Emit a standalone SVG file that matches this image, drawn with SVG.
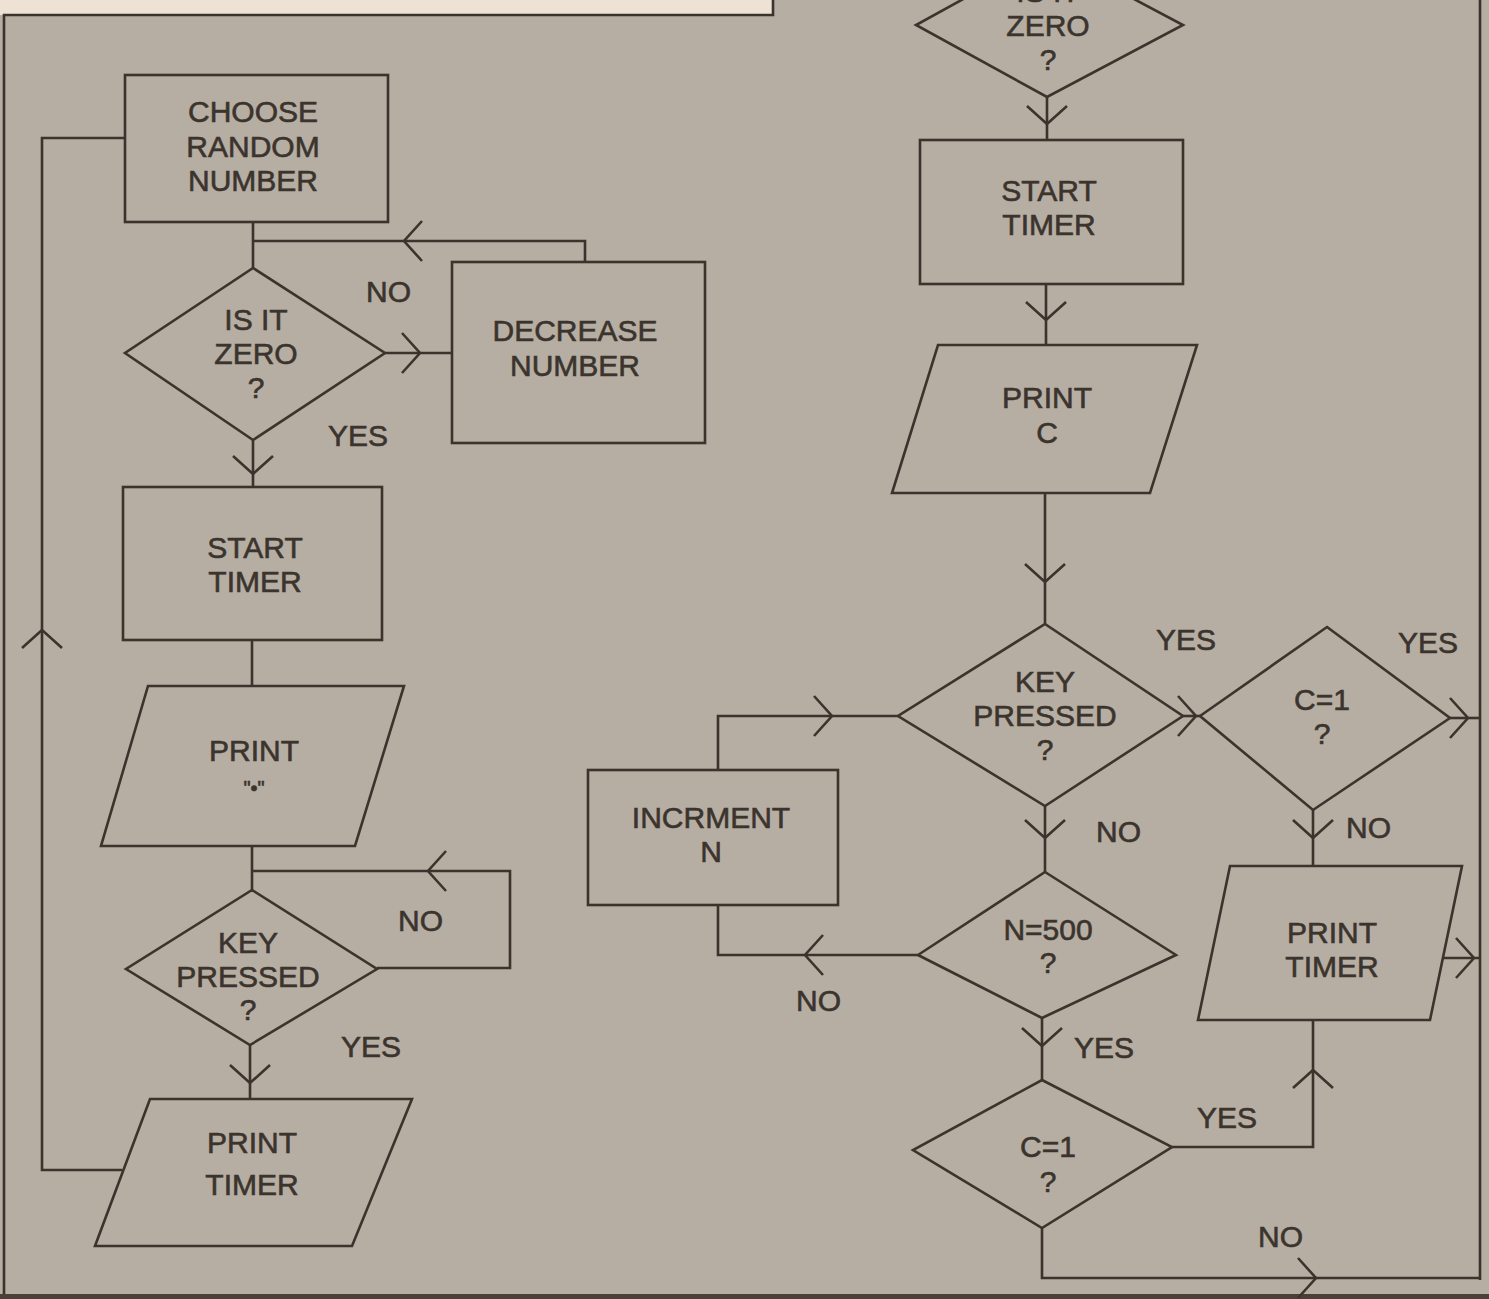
<svg xmlns="http://www.w3.org/2000/svg" width="1489" height="1299" viewBox="0 0 1489 1299">
<style>
.s{fill:none;stroke:#3b342d;stroke-width:2.6;stroke-linejoin:miter}
.t{font-family:"Liberation Sans",Arial,sans-serif;font-size:30px;fill:#3b342d;stroke:#3b342d;stroke-width:0.6;text-anchor:middle}
.l{font-family:"Liberation Sans",Arial,sans-serif;font-size:30px;fill:#3b342d;stroke:#3b342d;stroke-width:0.6}
</style>
<defs>
<path id="chev" d="M-18,-20 L0,0 L-18,20" fill="none" stroke="#3b342d" stroke-width="2.6"/>
</defs>
<rect width="1489" height="1299" fill="#b6ada3"/>
<rect x="0" y="0" width="773" height="15" fill="#eee2d5"/>
<path class="s" d="M4,1299 V15 H773 V0"/>
<path class="s" d="M1480,0 V1280"/>
<rect x="0" y="1294" width="1489" height="5" fill="#4a4038"/>

<g id="connectors">
<path class="s" d="M125,138 H42 V1170 H122"/>
<use href="#chev" transform="translate(42,630) rotate(-90)"/>
<path class="s" d="M253,222 V268"/>
<path class="s" d="M253,241 H585 V262"/>
<use href="#chev" transform="translate(404,241) rotate(180)"/>
<path class="s" d="M385,353 H452"/>
<use href="#chev" transform="translate(420,353)"/>
<path class="s" d="M253,440 V487"/>
<use href="#chev" transform="translate(253,474) rotate(90)"/>
<path class="s" d="M252,640 V686"/>
<path class="s" d="M252,846 V892"/>
<path class="s" d="M252,871 H510 V968 H377"/>
<use href="#chev" transform="translate(428,871) rotate(180)"/>
<path class="s" d="M250,1045 V1099"/>
<use href="#chev" transform="translate(250,1083) rotate(90)"/>

<path class="s" d="M1047,97 V140"/>
<use href="#chev" transform="translate(1047,124) rotate(90)"/>
<path class="s" d="M1046,284 V345"/>
<use href="#chev" transform="translate(1046,320) rotate(90)"/>
<path class="s" d="M1045,493 V624"/>
<use href="#chev" transform="translate(1045,582) rotate(90)"/>
<path class="s" d="M1183,716 H1200"/>
<use href="#chev" transform="translate(1196,716)"/>
<path class="s" d="M1450,718 H1480"/>
<use href="#chev" transform="translate(1468,718)"/>
<path class="s" d="M1313,810 V866"/>
<use href="#chev" transform="translate(1313,838) rotate(90)"/>
<path class="s" d="M1442,958 H1480"/>
<use href="#chev" transform="translate(1474,958)"/>
<path class="s" d="M718,770 V716 H898"/>
<use href="#chev" transform="translate(832,716)"/>
<path class="s" d="M918,955 H718 V905"/>
<use href="#chev" transform="translate(805,955) rotate(180)"/>
<path class="s" d="M1045,806 V872"/>
<use href="#chev" transform="translate(1045,838) rotate(90)"/>
<path class="s" d="M1042,1018 V1080"/>
<use href="#chev" transform="translate(1042,1046) rotate(90)"/>
<path class="s" d="M1172,1147 H1313 V1020"/>
<use href="#chev" transform="translate(1313,1070) rotate(-90)"/>
<path class="s" d="M1042,1228 V1278 H1480"/>
<use href="#chev" transform="translate(1316,1278)"/>
</g>

<g id="labels">
<text class="l" x="366" y="302">NO</text>
<text class="l" x="328" y="446">YES</text>
<text class="l" x="398" y="931">NO</text>
<text class="l" x="341" y="1057">YES</text>
<text class="l" x="1156" y="650">YES</text>
<text class="l" x="1398" y="653">YES</text>
<text class="l" x="1346" y="838">NO</text>
<text class="l" x="1096" y="842">NO</text>
<text class="l" x="796" y="1011">NO</text>
<text class="l" x="1074" y="1058">YES</text>
<text class="l" x="1197" y="1128">YES</text>
<text class="l" x="1258" y="1247">NO</text>
</g>

<g id="n-choose">
<rect class="s" x="125" y="75" width="263" height="147"/>
<text class="t" x="253" y="122">CHOOSE</text>
<text class="t" x="253" y="157">RANDOM</text>
<text class="t" x="253" y="191">NUMBER</text>
</g>
<g id="n-zero1">
<path class="s" d="M253,268 L385,353 L253,440 L125,353 Z"/>
<text class="t" x="256" y="330">IS IT</text>
<text class="t" x="256" y="364">ZERO</text>
<text class="t" x="256" y="398">?</text>
</g>
<g id="n-decrease">
<rect class="s" x="452" y="262" width="253" height="181"/>
<text class="t" x="575" y="341">DECREASE</text>
<text class="t" x="575" y="376">NUMBER</text>
</g>
<g id="n-start1">
<rect class="s" x="123" y="487" width="259" height="153"/>
<text class="t" x="255" y="558">START</text>
<text class="t" x="255" y="592">TIMER</text>
</g>
<g id="n-print-star">
<path class="s" d="M148,686 H404 L355,846 H101 Z"/>
<text class="t" x="254" y="761">PRINT</text>
<text class="t" x="254" y="795" style="font-size:20px">"•"</text>
</g>
<g id="n-key1">
<path class="s" d="M252,890 L377,969 L250,1045 L126,969 Z"/>
<text class="t" x="248" y="953">KEY</text>
<text class="t" x="248" y="987">PRESSED</text>
<text class="t" x="248" y="1020">?</text>
</g>
<g id="n-printtimer1">
<path class="s" d="M150,1099 H412 L352,1246 H95 Z"/>
<text class="t" x="252" y="1153">PRINT</text>
<text class="t" x="252" y="1195">TIMER</text>
</g>

<g id="n-zero2">
<path class="s" d="M1047,-47 L1183,25 L1047,97 L916,25 Z"/>
<text class="t" x="1048" y="2">IS IT</text>
<text class="t" x="1048" y="36">ZERO</text>
<text class="t" x="1048" y="70">?</text>
</g>
<g id="n-start2">
<rect class="s" x="920" y="140" width="263" height="144"/>
<text class="t" x="1049" y="201">START</text>
<text class="t" x="1049" y="235">TIMER</text>
</g>
<g id="n-printc">
<path class="s" d="M938,345 H1197 L1150,493 H892 Z"/>
<text class="t" x="1047" y="408">PRINT</text>
<text class="t" x="1047" y="443">C</text>
</g>
<g id="n-key2">
<path class="s" d="M1045,624 L1183,716 L1045,806 L898,716 Z"/>
<text class="t" x="1045" y="692">KEY</text>
<text class="t" x="1045" y="726">PRESSED</text>
<text class="t" x="1045" y="760">?</text>
</g>
<g id="n-c1a">
<path class="s" d="M1327,627 L1450,718 L1313,810 L1200,716 Z"/>
<text class="t" x="1322" y="710">C=1</text>
<text class="t" x="1322" y="744">?</text>
</g>
<g id="n-printtimer2">
<path class="s" d="M1230,866 H1462 L1430,1020 H1198 Z"/>
<text class="t" x="1332" y="943">PRINT</text>
<text class="t" x="1332" y="977">TIMER</text>
</g>
<g id="n-incr">
<rect class="s" x="588" y="770" width="250" height="135"/>
<text class="t" x="711" y="828">INCRMENT</text>
<text class="t" x="711" y="862">N</text>
</g>
<g id="n-n500">
<path class="s" d="M1045,872 L1176,955 L1042,1018 L918,955 Z"/>
<text class="t" x="1048" y="940">N=500</text>
<text class="t" x="1048" y="973">?</text>
</g>
<g id="n-c1b">
<path class="s" d="M1042,1080 L1172,1147 L1042,1228 L913,1150 Z"/>
<text class="t" x="1048" y="1157">C=1</text>
<text class="t" x="1048" y="1192">?</text>
</g>
</svg>
